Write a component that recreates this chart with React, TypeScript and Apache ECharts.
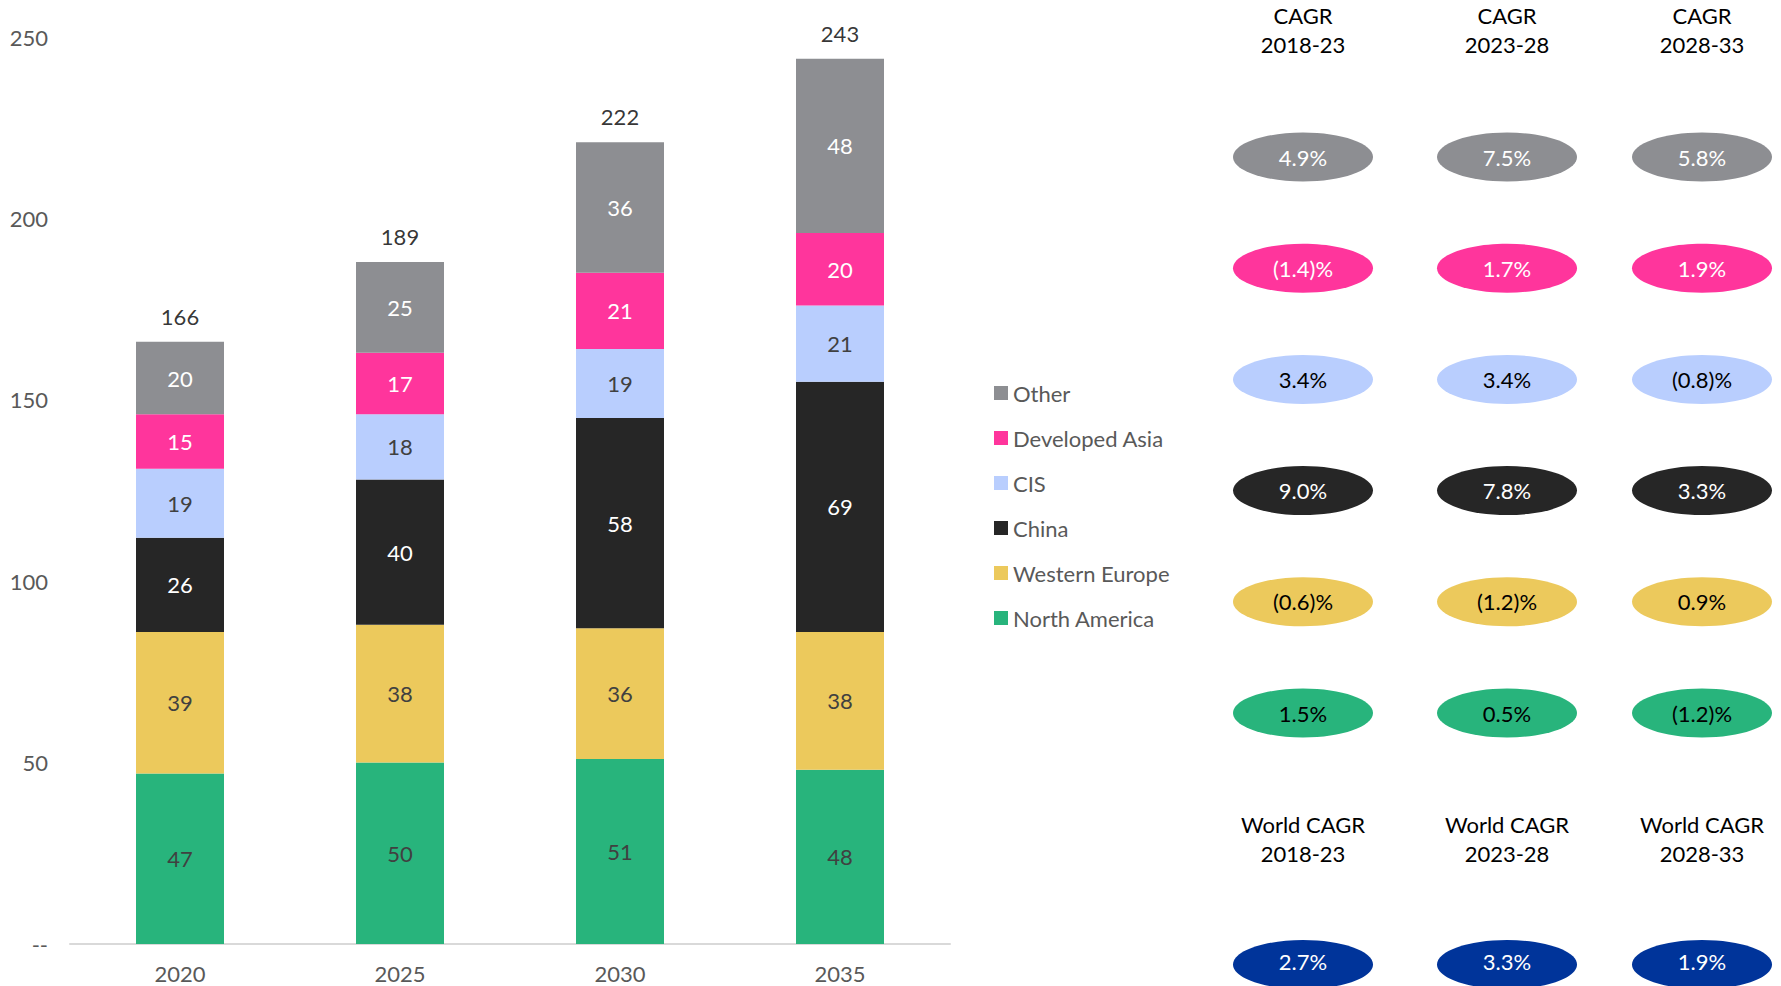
import React, { useEffect, useRef } from 'react';
import * as echarts from 'echarts';

// ---- Data ----
const years = ['2020', '2025', '2030', '2035'];
const northAmerica = [47, 50, 51, 48];
const westernEurope = [39, 38, 36, 38];
const china = [26, 40, 58, 69];
const cis = [19, 18, 19, 21];
const developedAsia = [15, 17, 21, 20];
const other = [20, 25, 36, 48];
const totals = [166, 189, 222, 243];

const yMin = 0;
const yMax = 250;
const yInterval = 50;

const cagrPeriods = ['2018-23', '2023-28', '2028-33'];
const cagrOther = [4.9, 7.5, 5.8];
const cagrDevelopedAsia = [-1.4, 1.7, 1.9];
const cagrCis = [3.4, 3.4, -0.8];
const cagrChina = [9.0, 7.8, 3.3];
const cagrWesternEurope = [-0.6, -1.2, 0.9];
const cagrNorthAmerica = [1.5, 0.5, -1.2];
const cagrWorld = [2.7, 3.3, 1.9];

// ---- Styles ----
const FONT = 'Lato, "Open Sans", sans-serif';
const colors = {
  northAmerica: '#28B47C',
  westernEurope: '#ECC95C',
  china: '#262626',
  cis: '#B9CEFE',
  developedAsia: '#FF359C',
  other: '#8D8E92',
  world: '#00349A',
};

const seriesDefs = [
  { name: 'North America', data: northAmerica, color: colors.northAmerica, text: '#404040' },
  { name: 'Western Europe', data: westernEurope, color: colors.westernEurope, text: '#404040' },
  { name: 'China', data: china, color: colors.china, text: '#ffffff' },
  { name: 'CIS', data: cis, color: colors.cis, text: '#404040' },
  { name: 'Developed Asia', data: developedAsia, color: colors.developedAsia, text: '#ffffff' },
  { name: 'Other', data: other, color: colors.other, text: '#ffffff' },
];

const cagrRows = [
  { values: cagrOther, color: colors.other, text: '#ffffff' },
  { values: cagrDevelopedAsia, color: colors.developedAsia, text: '#ffffff' },
  { values: cagrCis, color: colors.cis, text: '#000000' },
  { values: cagrChina, color: colors.china, text: '#ffffff' },
  { values: cagrWesternEurope, color: colors.westernEurope, text: '#000000' },
  { values: cagrNorthAmerica, color: colors.northAmerica, text: '#000000' },
];

const fmtPct = (v: number) => (v < 0 ? `(${Math.abs(v).toFixed(1)})%` : `${v.toFixed(1)}%`);

export default function App() {
  const ref = useRef<HTMLDivElement>(null);

  useEffect(() => {
    if (!ref.current) return;
    const chart = echarts.init(ref.current, null, { renderer: 'svg' });

    const stackTops = years.map((_, i) => seriesDefs.reduce((s, d) => s + d.data[i], 0));

    const colX = [1303, 1507, 1702];
    const rowY0 = 157;
    const rowStep = 111.2;
    const rx = 70;
    const ry = 24.5;

    const txt = (x: number, y: number, text: string, fill: string) => ({
      type: 'text',
      x,
      y,
      style: { text, align: 'center', verticalAlign: 'middle', fill, font: `22px ${FONT}` },
    });

    const graphic: any[] = [];
    colX.forEach((x, c) => {
      graphic.push(txt(x, 15, 'CAGR', '#000'));
      graphic.push(txt(x, 44, cagrPeriods[c], '#000'));
      cagrRows.forEach((row, r) => {
        const cy = rowY0 + r * rowStep;
        graphic.push({ type: 'ellipse', shape: { cx: x, cy, rx, ry }, style: { fill: row.color } });
        graphic.push(txt(x, cy, fmtPct(row.values[c]), row.text));
      });
      graphic.push(txt(x, 824, 'World CAGR', '#000'));
      graphic.push(txt(x, 853, cagrPeriods[c], '#000'));
      graphic.push({ type: 'ellipse', shape: { cx: x, cy: 964.5, rx, ry }, style: { fill: colors.world } });
      graphic.push(txt(x, 961, fmtPct(cagrWorld[c]), '#ffffff'));
    });

    const option: any = {
      animation: false,
      textStyle: { fontFamily: FONT },
      grid: { left: 70, top: 37, width: 880, bottom: 42, containLabel: false },
      legend: {
        orient: 'vertical',
        left: 989,
        top: 377,
        itemWidth: 14,
        itemHeight: 14,
        itemGap: 23,
        icon: 'rect',
        data: ['Other', 'Developed Asia', 'CIS', 'China', 'Western Europe', 'North America'],
        textStyle: { color: '#595959', fontSize: 22, lineHeight: 22, fontFamily: FONT },
        selectedMode: false,
      },
      xAxis: {
        type: 'category',
        data: years,
        axisLine: { show: true, lineStyle: { color: '#d9d9d9', width: 2 } },
        axisTick: { show: false },
        axisLabel: { color: '#595959', fontSize: 22, margin: 18, fontFamily: FONT },
      },
      yAxis: {
        type: 'value',
        min: yMin,
        max: yMax,
        interval: yInterval,
        axisLine: { show: false },
        axisTick: { show: false },
        splitLine: { show: false },
        axisLabel: {
          color: '#595959',
          fontSize: 22,
          margin: 22,
          fontFamily: FONT,
          formatter: (v: number) => (v === 0 ? '--' : String(v)),
        },
      },
      series: [
        ...seriesDefs.map((d) => ({
          name: d.name,
          type: 'bar',
          stack: 'total',
          barWidth: 88,
          data: d.data,
          itemStyle: { color: d.color },
          label: {
            show: true,
            position: 'inside',
            color: d.text,
            fontSize: 22,
            fontFamily: FONT,
          },
        })),
        {
          name: 'Total',
          type: 'scatter',
          data: stackTops,
          symbol: 'circle',
          symbolSize: 1,
          itemStyle: { color: 'rgba(0,0,0,0)' },
          label: {
            show: true,
            position: 'top',
            distance: 14,
            color: '#000000',
            fontSize: 22,
            fontFamily: FONT,
            formatter: (p: any) => String(totals[p.dataIndex]),
          },
          z: 10,
        },
      ],
      graphic,
    };

    chart.setOption(option);
    return () => chart.dispose();
  }, []);

  return (
    <div
      ref={ref}
      style={{ position: 'fixed', left: 0, top: 0, width: 1781, height: 986, background: '#fff' }}
    />
  );
}
